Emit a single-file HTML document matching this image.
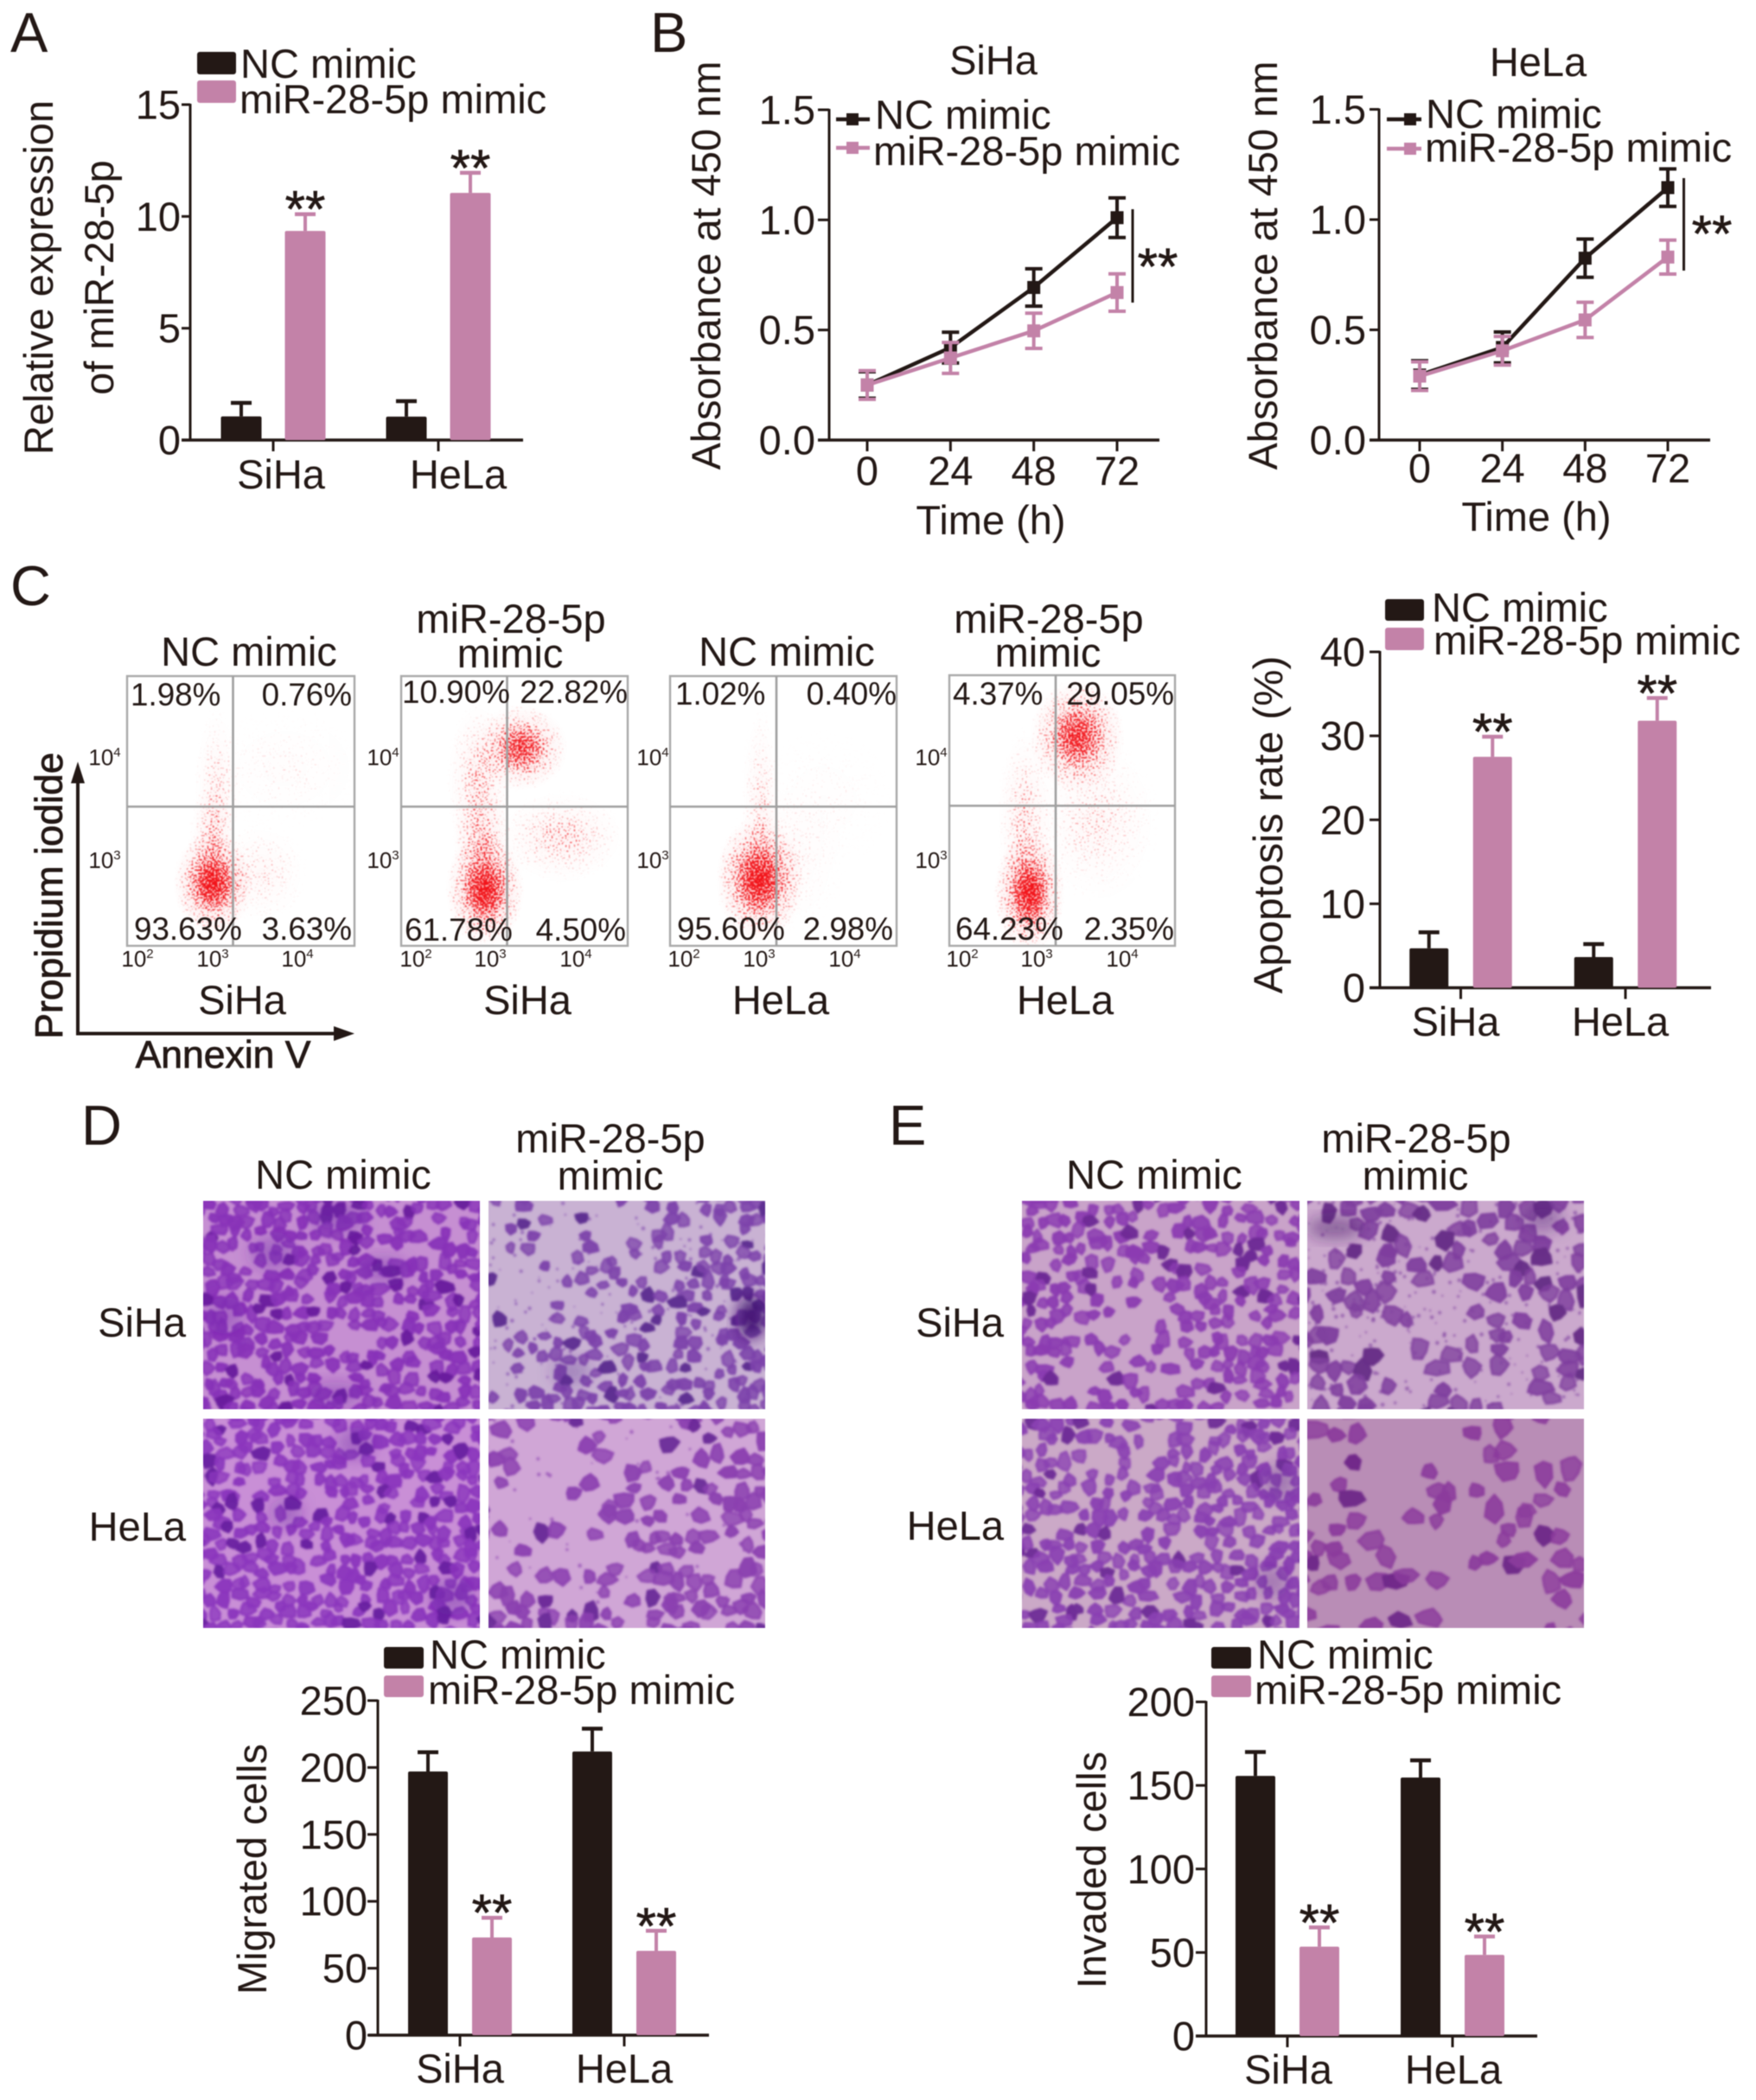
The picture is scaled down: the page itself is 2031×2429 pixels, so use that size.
<!DOCTYPE html>
<html lang="en">
<head>
<meta charset="utf-8">
<title>miR-28-5p mimic multi-panel figure</title>
<style>
html,body{margin:0;padding:0;background:#fff;width:2031px;height:2429px;overflow:hidden}
svg#figure{display:block;filter:blur(.45px)}
text{font-family:"Liberation Sans",sans-serif;fill:#231815;font-size:47px}
.letter{font-size:65px}
.pct{font-size:36.8px}
.ft{font-size:26px;text-anchor:middle}
.ft tspan{font-size:15px}
.mid{text-anchor:middle}
.end{text-anchor:end}
.boldish{font-size:44.5px;stroke:#231815;stroke-width:.8px}
.frame{fill:none;stroke:#a9a9a9;stroke-width:2.4}
.quad{stroke:#a0a0a0;stroke-width:2.6}
</style>
</head>
<body>
<svg id="figure" xmlns="http://www.w3.org/2000/svg" width="2031" height="2429" viewBox="0 0 2031 2429">
<defs>
  <radialGradient id="blobGrad"><stop offset="0" stop-color="#000" stop-opacity="1"/><stop offset=".3" stop-color="#000" stop-opacity=".72"/><stop offset=".6" stop-color="#000" stop-opacity=".3"/><stop offset="1" stop-color="#000" stop-opacity="0"/></radialGradient>
  <filter id="speckle" x="0" y="0" width="100%" height="100%" color-interpolation-filters="sRGB">
    <feTurbulence type="fractalNoise" baseFrequency=".5" numOctaves="1" seed="7" result="raw"/>
    <feComponentTransfer in="raw" result="n"><feFuncA type="linear" slope="2.4" intercept="-.7"/></feComponentTransfer>
    <feComposite in="SourceAlpha" in2="n" operator="arithmetic" k1="0" k2="1" k3="1" k4="-1" result="a"/>
    <feColorMatrix in="a" type="matrix" values="0 0 0 0 .95  0 0 0 0 .08  0 0 0 0 .1  0 0 0 3.5 0" result="dots"/>
    <feGaussianBlur in="dots" stdDeviation=".6"/>
  </filter>
  <filter id="cellBlur" x="-2%" y="-2%" width="104%" height="104%"><feGaussianBlur stdDeviation="1.4"/></filter>
  <filter id="darkBlur" x="-40%" y="-40%" width="180%" height="180%"><feGaussianBlur stdDeviation="9"/></filter>
</defs>

<g>
  <text class="letter" x="12" y="60">A</text>
  <text class="letter" x="752" y="60">B</text>
  <text class="letter" x="12" y="700">C</text>
  <text class="letter" x="94" y="1324">D</text>
  <text class="letter" x="1028" y="1324">E</text>
</g>

<!-- Panel A static text -->
<g>
  <text class="mid" transform="translate(61,321) rotate(-90)">Relative expression</text>
  <text class="mid" transform="translate(131,321) rotate(-90)">of miR-28-5p</text>
  <rect x="228" y="60" width="45" height="26" rx="3" fill="#231815"/>
  <text x="278" y="90">NC mimic</text>
  <rect x="228" y="93" width="45" height="26" rx="3" fill="#c382a8"/>
  <text x="277" y="131">miR-28-5p mimic</text>
</g>

<!-- Panel B static text -->
<g>
  <text class="mid" x="1149" y="86">SiHa</text>
  <text class="mid" transform="translate(833,307) rotate(-90)">Absorbance at 450 nm</text>
  <text class="mid" x="1146" y="618">Time (h)</text>
  <line x1="967" x2="1006" y1="138" y2="138" stroke="#231815" stroke-width="4.5"/>
  <rect x="979" y="131" width="14" height="14" fill="#231815"/>
  <text x="1012" y="149">NC mimic</text>
  <line x1="967" x2="1006" y1="171" y2="171" stroke="#c382a8" stroke-width="4.5"/>
  <rect x="979" y="164" width="14" height="14" fill="#c382a8"/>
  <text x="1010" y="191">miR-28-5p mimic</text>
  <line x1="1310" x2="1310" y1="242" y2="350" stroke="#231815" stroke-width="3"/>
  <text class="mid" x="1339" y="329" style="font-size:60px;stroke:#231815;stroke-width:.6px">**</text>
</g>
<g>
  <text class="mid" x="1779" y="88">HeLa</text>
  <text class="mid" transform="translate(1477,307) rotate(-90)">Absorbance at 450 nm</text>
  <text class="mid" x="1777" y="614">Time (h)</text>
  <line x1="1604" x2="1644" y1="138" y2="138" stroke="#231815" stroke-width="4.5"/>
  <rect x="1624" y="131" width="14" height="14" fill="#231815"/>
  <text x="1649" y="148">NC mimic</text>
  <line x1="1604" x2="1644" y1="172" y2="172" stroke="#c382a8" stroke-width="4.5"/>
  <rect x="1624" y="165" width="14" height="14" fill="#c382a8"/>
  <text x="1648" y="187">miR-28-5p mimic</text>
  <line x1="1947.5" x2="1947.5" y1="206" y2="313" stroke="#231815" stroke-width="3"/>
  <text class="mid" x="1980" y="291" style="font-size:60px;stroke:#231815;stroke-width:.6px">**</text>
</g>

<!-- Panel C flow plot frames and blobs -->
<g id="flowLayer"></g>
<g>
  <rect class="frame" x="147" y="782" width="263" height="312"/>
  <line class="quad" x1="269.5" x2="269.5" y1="782" y2="1094"/>
  <line class="quad" x1="147" x2="410" y1="933" y2="933"/>
  <rect class="frame" x="464" y="782" width="262" height="312"/>
  <line class="quad" x1="586.5" x2="586.5" y1="782" y2="1094"/>
  <line class="quad" x1="464" x2="726" y1="933" y2="933"/>
  <rect class="frame" x="775" y="782" width="262" height="312"/>
  <line class="quad" x1="898" x2="898" y1="782" y2="1094"/>
  <line class="quad" x1="775" x2="1037" y1="933" y2="933"/>
  <rect class="frame" x="1098" y="781" width="261" height="313"/>
  <line class="quad" x1="1221" x2="1221" y1="781" y2="1094"/>
  <line class="quad" x1="1098" x2="1359" y1="932" y2="932"/>
</g>
<g>
  <text class="mid" x="288" y="770">NC mimic</text>
  <text class="mid" x="591" y="732">miR-28-5p</text>
  <text class="mid" x="590" y="772">mimic</text>
  <text class="mid" x="910" y="770">NC mimic</text>
  <text class="mid" x="1213" y="732">miR-28-5p</text>
  <text class="mid" x="1212" y="771">mimic</text>

  <text class="pct" x="151" y="816">1.98%</text>
  <text class="pct end" x="407" y="816">0.76%</text>
  <text class="pct" x="155" y="1087">93.63%</text>
  <text class="pct end" x="407" y="1087">3.63%</text>

  <text class="pct" x="465" y="813">10.90%</text>
  <text class="pct end" x="726" y="813">22.82%</text>
  <text class="pct" x="468" y="1088">61.78%</text>
  <text class="pct end" x="724" y="1088">4.50%</text>

  <text class="pct" x="781" y="815">1.02%</text>
  <text class="pct end" x="1037" y="815">0.40%</text>
  <text class="pct" x="783" y="1087">95.60%</text>
  <text class="pct end" x="1033" y="1087">2.98%</text>

  <text class="pct" x="1102" y="815">4.37%</text>
  <text class="pct end" x="1358" y="815">29.05%</text>
  <text class="pct" x="1105" y="1087">64.23%</text>
  <text class="pct end" x="1358" y="1087">2.35%</text>

  <text class="ft" x="159" y="1118">10<tspan dy="-10">2</tspan></text>
  <text class="ft" x="246" y="1118">10<tspan dy="-10">3</tspan></text>
  <text class="ft" x="344" y="1118">10<tspan dy="-10">4</tspan></text>
  <text class="ft" x="121" y="885">10<tspan dy="-10">4</tspan></text>
  <text class="ft" x="121" y="1004">10<tspan dy="-10">3</tspan></text>

  <text class="ft" x="481" y="1118">10<tspan dy="-10">2</tspan></text>
  <text class="ft" x="567" y="1118">10<tspan dy="-10">3</tspan></text>
  <text class="ft" x="666" y="1118">10<tspan dy="-10">4</tspan></text>
  <text class="ft" x="443" y="885">10<tspan dy="-10">4</tspan></text>
  <text class="ft" x="443" y="1004">10<tspan dy="-10">3</tspan></text>

  <text class="ft" x="791" y="1118">10<tspan dy="-10">2</tspan></text>
  <text class="ft" x="878" y="1118">10<tspan dy="-10">3</tspan></text>
  <text class="ft" x="977" y="1118">10<tspan dy="-10">4</tspan></text>
  <text class="ft" x="755" y="885">10<tspan dy="-10">4</tspan></text>
  <text class="ft" x="755" y="1004">10<tspan dy="-10">3</tspan></text>

  <text class="ft" x="1113" y="1118">10<tspan dy="-10">2</tspan></text>
  <text class="ft" x="1199" y="1118">10<tspan dy="-10">3</tspan></text>
  <text class="ft" x="1298" y="1118">10<tspan dy="-10">4</tspan></text>
  <text class="ft" x="1077" y="885">10<tspan dy="-10">4</tspan></text>
  <text class="ft" x="1077" y="1004">10<tspan dy="-10">3</tspan></text>

  <text class="mid" x="280" y="1173">SiHa</text>
  <text class="mid" x="610" y="1173">SiHa</text>
  <text class="mid" x="903" y="1173">HeLa</text>
  <text class="mid" x="1232" y="1173">HeLa</text>

  <line x1="90" x2="90" y1="1197" y2="900" stroke="#231815" stroke-width="4"/>
  <polygon points="90,881 82,906 98,906" fill="#231815"/>
  <line x1="88" x2="390" y1="1195.5" y2="1195.5" stroke="#231815" stroke-width="4"/>
  <polygon points="410,1195.5 386,1187 386,1204" fill="#231815"/>
  <text class="mid boldish" transform="translate(72,1036) rotate(-90)">Propidium iodide</text>
  <text class="mid boldish" x="258" y="1235">Annexin V</text>
</g>

<!-- Apoptosis chart static text -->
<g>
  <rect x="1602" y="693" width="45" height="25" rx="3" fill="#231815"/>
  <text x="1656" y="719">NC mimic</text>
  <rect x="1602" y="726" width="45" height="26" rx="3" fill="#c382a8"/>
  <text x="1658" y="757">miR-28-5p mimic</text>
  <text class="mid" style="font-size:47.5px" transform="translate(1483,954) rotate(-90)">Apoptosis rate (%)</text>
</g>

<!-- Panels D, E micrographs -->
<g id="microLayer"></g>
<g>
  <text class="mid" x="397" y="1375">NC mimic</text>
  <text class="mid" x="706" y="1333">miR-28-5p</text>
  <text class="mid" x="706" y="1376">mimic</text>
  <text class="end" x="215" y="1546">SiHa</text>
  <text class="end" x="215" y="1782">HeLa</text>
</g>
<g>
  <text class="mid" x="1335" y="1375">NC mimic</text>
  <text class="mid" x="1638" y="1333">miR-28-5p</text>
  <text class="mid" x="1637" y="1376">mimic</text>
  <text class="end" x="1161" y="1546">SiHa</text>
  <text class="end" x="1161" y="1781">HeLa</text>
</g>

<!-- Migrated / invaded chart static text -->
<g>
  <rect x="444" y="1905" width="46" height="25" rx="3" fill="#231815"/>
  <text x="497" y="1930">NC mimic</text>
  <rect x="444" y="1938" width="46" height="25" rx="3" fill="#c382a8"/>
  <text x="495" y="1971">miR-28-5p mimic</text>
  <text class="mid" transform="translate(308,2162) rotate(-90)">Migrated cells</text>
</g>
<g>
  <rect x="1401" y="1905" width="46" height="25" rx="3" fill="#231815"/>
  <text x="1454" y="1930">NC mimic</text>
  <rect x="1401" y="1938" width="46" height="25" rx="3" fill="#c382a8"/>
  <text x="1451" y="1971">miR-28-5p mimic</text>
  <text class="mid" transform="translate(1279,2163) rotate(-90)">Invaded cells</text>
</g>

<g id="chartLayer"></g>
</svg>

<script>
/* ---------- chart data ---------- */
const cellLines = ['SiHa', 'HeLa'];

const expressionTicks = [0, 5, 10, 15];
const expressionNc = [1.06, 1.05];
const expressionNcErr = [0.6, 0.69];
const expressionMimic = [9.35, 11.05];
const expressionMimicErr = [0.75, 0.9];

const apoptosisTicks = [0, 10, 20, 30, 40];
const apoptosisNc = [4.7, 3.65];
const apoptosisNcErr = [1.9, 1.55];
const apoptosisMimic = [27.5, 31.8];
const apoptosisMimicErr = [2.4, 2.7];

const migratedTicks = [0, 50, 100, 150, 200, 250];
const migratedNc = [197, 212];
const migratedNcErr = [14.4, 17];
const migratedMimic = [73, 63];
const migratedMimicErr = [14.7, 15];

const invadedTicks = [0, 50, 100, 150, 200];
const invadedNc = [155.7, 154.7];
const invadedNcErr = [14.3, 10.3];
const invadedMimic = [53.5, 48.6];
const invadedMimicErr = [11.5, 11];

const timeHours = [0, 24, 48, 72];
const absorbanceTicks = ['0.0', '0.5', '1.0', '1.5'];

const sihaNc = [0.25, 0.42, 0.693, 1.01];
const sihaNcErr = [0.06, 0.07, 0.085, 0.09];
const sihaMimic = [0.25, 0.373, 0.496, 0.67];
const sihaMimicErr = [0.065, 0.07, 0.08, 0.085];

const helaNc = [0.295, 0.42, 0.825, 1.145];
const helaNcErr = [0.065, 0.07, 0.087, 0.085];
const helaMimic = [0.29, 0.405, 0.545, 0.83];
const helaMimicErr = [0.065, 0.065, 0.08, 0.077];

/* flow density clusters: [log10 Annexin V, log10 PI, spread X (decades), spread Y (decades), weight] */
const flowSihaNc = [[3.0, 2.805, 0.5, 0.5, 1], [3.0, 3.25, 0.3, 0.5, 0.3], [3.05, 3.7, 0.3, 0.8, 0.22], [3.6, 2.9, 0.6, 0.5, 0.18], [3.9, 3.9, 1.0, 0.6, 0.08]];
const flowSihaMimic = [[3.39, 4.1, 0.58, 0.42, 0.82], [2.935, 2.74, 0.5, 0.55, 1], [2.85, 3.75, 0.4, 0.8, 0.34], [3.89, 3.25, 0.8, 0.45, 0.3], [2.9, 3.2, 0.38, 0.5, 0.36]];
const flowHelaNc = [[3.0, 2.84, 0.55, 0.6, 1], [3.02, 3.6, 0.25, 0.9, 0.22], [3.3, 3.0, 0.8, 0.7, 0.12], [3.8, 3.6, 0.9, 0.7, 0.06]];
const flowHelaMimic = [[3.51, 4.21, 0.6, 0.55, 0.88], [2.91, 2.71, 0.45, 0.58, 1], [2.85, 3.4, 0.35, 0.9, 0.3], [3.75, 3.4, 0.8, 0.8, 0.2]];

/* ---------- helpers ---------- */
const SVG_NS = 'http://www.w3.org/2000/svg';
const DARK = '#231815';
const PINK = '#c382a8';
const chartLayer = document.getElementById('chartLayer');

function make(tag, parent, attrs) {
  const el = document.createElementNS(SVG_NS, tag);
  for (const k in attrs) el.setAttribute(k, attrs[k]);
  parent.appendChild(el);
  return el;
}

function linearScale(d0, d1, r0, r1) {
  return function (v) { return r0 + (v - d0) * (r1 - r0) / (d1 - d0); };
}

function drawAxes(parent, f, yScale, ticks, xTickPositions, xLabels) {
  const yAxis = make('line', parent, { x1: f.x0, x2: f.x0, y1: f.yTop - 1, y2: f.y0, stroke: DARK, 'stroke-width': 3 });
  
  
  const xAxis = make('line', parent, { x1: f.xStart, x2: f.xEnd, y1: f.y0, y2: f.y0, stroke: DARK, 'stroke-width': 3.4 });
  
  
  ticks.forEach(function (t) {
    const y = yScale(Number(t));
    const tick = make('line', parent, { x1: f.x0 - f.tickLen, x2: f.x0, y1: y, y2: y, stroke: DARK, 'stroke-width': 3 });
    
    
    const lab = make('text', parent, { x: f.x0 - f.labelGap, y: y + 16.5, 'text-anchor': 'end' });
    lab.textContent = t;
    
    
  });
  xTickPositions.forEach(function (x, i) {
    const tick = make('line', parent, { x1: x, x2: x, y1: f.y0, y2: f.y0 + 13, stroke: DARK, 'stroke-width': 3 });
    
    
    const shift = f.labelShift ? (f.labelShift[i] || 0) : 0;
    const lab = make('text', parent, { x: x + shift, y: f.xLabelY, 'text-anchor': 'middle' });
    lab.textContent = xLabels[i];
    
    
  });
}

function drawBar(parent, x, w, value, err, color, yScale, stars) {
  const top = yScale(value);
  const errTop = yScale(value + err);
  const stem = make('line', parent, { x1: x, x2: x, y1: top, y2: errTop, stroke: color, 'stroke-width': 4 });
  
  
  const cap = make('line', parent, { x1: x - 12, x2: x + 12, y1: errTop, y2: errTop, stroke: color, 'stroke-width': 4.5 });
  
  
  const bar = make('rect', parent, { x: x - w / 2, y: top, width: w, height: yScale(0) - top, rx: 2, fill: color });
  
  
  if (stars) {
    const s = make('text', parent, { x: x, y: errTop + 15, 'text-anchor': 'middle', style: 'font-size:60px;stroke:#231815;stroke-width:.6px' });
    s.textContent = '**';
    
    
  }
}

function drawBarChart(name, f, ticks, nc, ncErr, mimic, mimicErr, starsOn) {
  const g = make('g', chartLayer, {});
  
  
  const yScale = linearScale(0, f.max, f.y0, f.yTop);
  const xCat = function (i) { return f.first + i * f.step; };
  drawAxes(g, f, yScale, ticks, cellLines.map(function (c, i) { return xCat(i); }), cellLines);
  cellLines.forEach(function (c, i) {
    drawBar(g, xCat(i) - f.offset, f.barW, nc[i], ncErr[i], DARK, yScale, starsOn === 'nc');
    drawBar(g, xCat(i) + f.offset, f.barW, mimic[i], mimicErr[i], PINK, yScale, starsOn === 'mimic');
  });
}

function drawSeries(parent, xScale, yScale, values, errs, color, seriesName) {
  const g = make('g', parent, {});
  
  
  const pts = timeHours.map(function (h, i) { return xScale(h) + ',' + yScale(values[i]); }).join(' ');
  const line = make('polyline', g, { points: pts, fill: 'none', stroke: color, 'stroke-width': 4.5 });
  
  
  timeHours.forEach(function (h, i) {
    const x = xScale(h);
    const yUp = yScale(values[i] + errs[i]);
    const yDn = yScale(values[i] - errs[i]);
    const e = make('path', g, { d: 'M' + (x - 10) + ' ' + yUp + 'H' + (x + 10) + 'M' + x + ' ' + yUp + 'V' + yDn + 'M' + (x - 10) + ' ' + yDn + 'H' + (x + 10), fill: 'none', stroke: color, 'stroke-width': 4 });
    
    
    const p = make('rect', g, { x: x - 7.5, y: yScale(values[i]) - 7.5, width: 15, height: 15, fill: color });
    
    
  });
}

function drawLineChart(name, f, nc, ncErr, mimic, mimicErr) {
  const g = make('g', chartLayer, {});
  
  
  const yScale = linearScale(0, 1.5, f.y0, f.yTop);
  const xScale = linearScale(0, 72, f.xh0, f.xh72);
  drawAxes(g, f, yScale, absorbanceTicks, timeHours.map(xScale), timeHours);
  drawSeries(g, xScale, yScale, nc, ncErr, DARK, 'series-nc-mimic');
  drawSeries(g, xScale, yScale, mimic, mimicErr, PINK, 'series-mir-mimic');
}

/* ---------- charts ---------- */
drawBarChart('expression-bar-chart',
  { x0: 220, y0: 509, yTop: 121, max: 15, xStart: 210, xEnd: 605, tickLen: 10, labelGap: 11, xLabelY: 565, first: 316, step: 191, offset: 37, barW: 47, labelShift: [9, 23] },
  expressionTicks, expressionNc, expressionNcErr, expressionMimic, expressionMimicErr, 'mimic');

drawBarChart('apoptosis-bar-chart',
  { x0: 1596, y0: 1142.5, yTop: 754, max: 40, xStart: 1584, xEnd: 1979, tickLen: 12, labelGap: 17, xLabelY: 1198, first: 1689.5, step: 190.5, offset: 36.75, barW: 45, labelShift: [-6, -6] },
  apoptosisTicks, apoptosisNc, apoptosisNcErr, apoptosisMimic, apoptosisMimicErr, 'mimic');

drawBarChart('migrated-bar-chart',
  { x0: 437, y0: 2354, yTop: 1967, max: 250, xStart: 426, xEnd: 820, tickLen: 12, labelGap: 12, xLabelY: 2409, first: 532, step: 190, offset: 37, barW: 46, labelShift: [0, 0] },
  migratedTicks, migratedNc, migratedNcErr, migratedMimic, migratedMimicErr, 'mimic');

drawBarChart('invaded-bar-chart',
  { x0: 1395, y0: 2355, yTop: 1968.5, max: 200, xStart: 1383, xEnd: 1778, tickLen: 12, labelGap: 13, xLabelY: 2410, first: 1489, step: 191, offset: 37, barW: 46, labelShift: [1, 1] },
  invadedTicks, invadedNc, invadedNcErr, invadedMimic, invadedMimicErr, 'mimic');

drawLineChart('absorbance-line-chart-siha',
  { x0: 959, y0: 509, yTop: 127, xStart: 946, xEnd: 1341, tickLen: 13, labelGap: 16, xLabelY: 561, xh0: 1003, xh72: 1292, labelShift: [0, 0, 0, 0] },
  sihaNc, sihaNcErr, sihaMimic, sihaMimicErr);

drawLineChart('absorbance-line-chart-hela',
  { x0: 1595, y0: 509, yTop: 126.5, xStart: 1584, xEnd: 1978, tickLen: 11, labelGap: 15, xLabelY: 558, xh0: 1642, xh72: 1929, labelShift: [0, 0, 0, 0] },
  helaNc, helaNcErr, helaMimic, helaMimicErr);

/* ---------- flow density plots ---------- */
const flowLayer = document.getElementById('flowLayer');
(function () {
  const defs = document.querySelector('defs');
  const grad = make('radialGradient', defs, { id: 'softGrad' });
  make('stop', grad, { offset: '0', 'stop-color': '#f01820', 'stop-opacity': '.9' });
  make('stop', grad, { offset: '.5', 'stop-color': '#f01820', 'stop-opacity': '.4' });
  make('stop', grad, { offset: '1', 'stop-color': '#f01820', 'stop-opacity': '0' });
})();
function drawFlow(name, x, y, w, h, x3, clusters) {
  const holder = make('svg', flowLayer, { x: x, y: y, width: w, height: h, viewBox: x + ' ' + y + ' ' + w + ' ' + h });
  
  
  const xLog = function (l) { return x3 + (l - 3) * 92.5; };
  const yLog = function (l) { return 998 - (l - 3) * 121; };
  const soft = make('g', holder, { opacity: 0.16 });
  const dots = make('g', holder, { filter: 'url(#speckle)' });
  make('rect', dots, { x: x, y: y, width: w, height: h, fill: 'none' });
  clusters.forEach(function (c) {
    [soft, dots].forEach(function (layer) {
      const blob = make('ellipse', layer, {
        cx: xLog(c[0]), cy: yLog(c[1]), rx: c[2] * 92.5, ry: c[3] * 121,
        fill: layer === soft ? 'url(#softGrad)' : 'url(#blobGrad)', 'fill-opacity': c[4]
      });
      
      
    });
  });
}
drawFlow('flow-plot-siha-nc', 147, 782, 263, 312, 246, flowSihaNc);
drawFlow('flow-plot-siha-mimic', 464, 782, 262, 312, 567, flowSihaMimic);
drawFlow('flow-plot-hela-nc', 775, 782, 262, 312, 878, flowHelaNc);
drawFlow('flow-plot-hela-mimic', 1098, 781, 261, 313, 1199, flowHelaMimic);

/* ---------- crystal-violet micrographs (decorative photo texture, not chart data) ---------- */
const microLayer = document.getElementById('microLayer');
function texture(seed) {
  let a = seed >>> 0;
  return function () {
    a = (a + 0x6D2B79F5) >>> 0;
    let t = a;
    t = Math.imul(t ^ (t >>> 15), t | 1);
    t ^= t + Math.imul(t ^ (t >>> 7), t | 61);
    return ((t ^ (t >>> 14)) >>> 0) / 4294967296;
  };
}
function drawMicrograph(name, p) {
  const holder = make('svg', microLayer, { x: p.x, y: p.y, width: p.w, height: p.h, viewBox: '0 0 ' + p.w + ' ' + p.h });
  
  
  make('rect', holder, { width: p.w, height: p.h, fill: p.bg });
  const rnd = texture(p.seed);
  const cells = make('g', holder, { filter: 'url(#cellBlur)' });
  if (p.dust) {
    for (let i = 0; i < p.dust; i++) {
      make('circle', cells, { cx: rnd() * p.w, cy: rnd() * p.h, r: 0.9 + rnd() * 1.6, fill: p.cell, 'fill-opacity': 0.6 });
    }
  }
  const s = p.r * 1.7;
  for (let gy = -0.5; gy * s < p.h + s; gy++) {
    for (let gx = -0.5; gx * s < p.w + s; gx++) {
      const cx = gx * s + (rnd() - 0.5) * s * 0.75;
      const cy = gy * s + (rnd() - 0.5) * s * 0.75;
      const u = cx / p.w, v = cy / p.h;
      let prob = p.density;
      p.clear.forEach(function (c) {
        const d = ((u - c[0]) * (u - c[0]) + (v - c[1]) * (v - c[1])) / (c[2] * c[2]);
        prob *= 1 - c[3] * Math.exp(-d);
      });
      const roll = rnd();
      const n = 6 + Math.floor(rnd() * 3);
      const rot = rnd() * 6.283;
      const size = p.r * (0.62 + rnd() * 0.42);
      const stretch = 0.82 + rnd() * 0.45;
      const tone = rnd();
      if (roll > prob) continue;
      const pts = [];
      for (let k = 0; k < n; k++) {
        const ang = rot + k / n * 6.283;
        const rad = size * (0.78 + ((k * 7 + Math.floor(tone * 97)) % 5) * 0.09);
        pts.push((cx + Math.cos(ang) * rad * stretch).toFixed(1) + ',' + (cy + Math.sin(ang) * rad / stretch).toFixed(1));
      }
      const color = tone > 0.88 ? p.dark : p.cell;
      make('polygon', cells, { points: pts.join(' '), fill: color, stroke: color, 'stroke-width': 2.5, 'stroke-linejoin': 'round', 'fill-opacity': (0.75 + tone * 0.25).toFixed(2), 'stroke-opacity': (0.75 + tone * 0.25).toFixed(2) });
    }
  }
  (p.blobs || []).forEach(function (b) {
    make('ellipse', holder, { cx: b[0] * p.w, cy: b[1] * p.h, rx: b[2] * p.w, ry: b[3] * p.h, fill: b[4], 'fill-opacity': b[5], filter: 'url(#darkBlur)' });
  });
}
drawMicrograph('micrograph-d-siha-nc', { seed: 11, x: 235, y: 1389, w: 320, h: 241, bg: '#c68fd2', cell: '#8832b8', dark: '#6a1f9e', r: 9, density: 0.97, clear: [[0.18, 0.3, 0.09, 0.6], [0.55, 0.7, 0.1, 0.6], [0.4, 0.45, 0.06, 0.4], [0.8, 0.15, 0.09, 0.5], [0.8, 0.75, 0.07, 0.5]], blobs: [[0.48, 0.08, 0.1, 0.08, '#6e20a8', 0.4], [0.25, 0.25, 0.08, 0.08, '#6e20a8', 0.4], [0.65, 0.33, 0.08, 0.06, '#6e20a8', 0.4], [0.08, 0.55, 0.07, 0.09, '#6e20a8', 0.35], [0.48, 0.93, 0.1, 0.06, '#6e20a8', 0.35]] });
drawMicrograph('micrograph-d-siha-mimic', { seed: 23, x: 565, y: 1389, w: 320, h: 241, bg: '#c9b2d3', cell: '#7d43ab', dark: '#5e2f92', r: 8.5, density: 0.72, dust: 170, clear: [[0.08, 0.45, 0.28, 0.99], [0.15, 0.1, 0.18, 0.9], [0.42, 0.13, 0.2, 0.9], [0.75, 0.12, 0.12, 0.6], [0.3, 0.5, 0.12, 0.85], [0.05, 0.9, 0.12, 0.85]], blobs: [[0.95, 0.56, 0.05, 0.1, '#3e1070', 0.95], [0.3, 0.82, 0.07, 0.06, '#5a248e', 0.35]] });
drawMicrograph('micrograph-d-hela-nc', { seed: 37, x: 235, y: 1641, w: 320, h: 242, bg: '#c98fd6', cell: '#8b36bd', dark: '#6b20a2', r: 9, density: 0.95, clear: [[0.18, 0.35, 0.07, 0.7], [0.42, 0.4, 0.07, 0.75], [0.72, 0.42, 0.06, 0.6], [0.1, 0.75, 0.07, 0.6], [0.4, 0.72, 0.06, 0.4]], blobs: [[0.3, 0.45, 0.06, 0.07, '#6018a0', 0.35], [0.9, 0.85, 0.08, 0.09, '#6018a0', 0.35], [0.55, 0.12, 0.07, 0.08, '#6018a0', 0.35]] });
drawMicrograph('micrograph-d-hela-mimic', { seed: 41, x: 565, y: 1641, w: 320, h: 242, bg: '#d0a6d6', cell: '#8b40b0', dark: '#6d2d9a', r: 10.5, density: 0.92, dust: 60, clear: [[0.2, 0.25, 0.28, 0.99], [0.32, 0.65, 0.17, 0.95], [0.1, 0.6, 0.16, 0.92], [0.55, 0.9, 0.1, 0.75], [0.88, 0.65, 0.1, 0.8], [0.55, 0.05, 0.14, 0.9], [0.9, 0.1, 0.08, 0.6]] });
drawMicrograph('micrograph-e-siha-nc', { seed: 53, x: 1182, y: 1389, w: 321, h: 241, bg: '#c9a3c9', cell: '#8b3bb1', dark: '#6e2a96', r: 9, density: 0.85, clear: [[0.33, 0.6, 0.18, 0.95], [0.55, 0.2, 0.09, 0.75], [0.72, 0.28, 0.08, 0.8], [0.2, 0.92, 0.1, 0.75], [0.55, 0.9, 0.09, 0.6], [0.08, 0.3, 0.06, 0.5]] });
drawMicrograph('micrograph-e-siha-mimic', { seed: 67, x: 1512, y: 1389, w: 320, h: 241, bg: '#cba9cd', cell: '#7f3f9e', dark: '#683088', r: 12, density: 0.62, dust: 280, clear: [[0.45, 0.55, 0.2, 0.95], [0.7, 0.85, 0.14, 0.7], [0.12, 0.22, 0.07, 0.5], [0.9, 0.6, 0.05, 0.2]], blobs: [[0.1, 0.13, 0.1, 0.05, '#4e2070', 0.55], [0.85, 0.08, 0.07, 0.07, '#5a2680', 0.45]] });
drawMicrograph('micrograph-e-hela-nc', { seed: 71, x: 1182, y: 1641, w: 321, h: 242, bg: '#cba9c7', cell: '#8a41b2', dark: '#6f2d98', r: 9, density: 0.84, clear: [[0.5, 0.1, 0.12, 0.8], [0.2, 0.22, 0.09, 0.6], [0.58, 0.62, 0.11, 0.8], [0.1, 0.55, 0.06, 0.55], [0.8, 0.55, 0.06, 0.5]], blobs: [[0.93, 0.3, 0.06, 0.08, '#5e2290', 0.4], [0.9, 0.78, 0.06, 0.08, '#5e2290', 0.35]] });
drawMicrograph('micrograph-e-hela-mimic', { seed: 83, x: 1512, y: 1641, w: 320, h: 242, bg: '#b98db6', cell: '#8b3b9c', dark: '#70298a', r: 13, density: 0.5, clear: [[0.3, 0.12, 0.24, 0.92], [0.45, 0.55, 0.12, 0.75], [0.15, 0.45, 0.1, 0.6], [0.6, 0.9, 0.09, 0.7], [0.1, 0.9, 0.15, 0.6], [0.85, 0.25, 0.05, 0.4]] });
</script>
</body>
</html>
